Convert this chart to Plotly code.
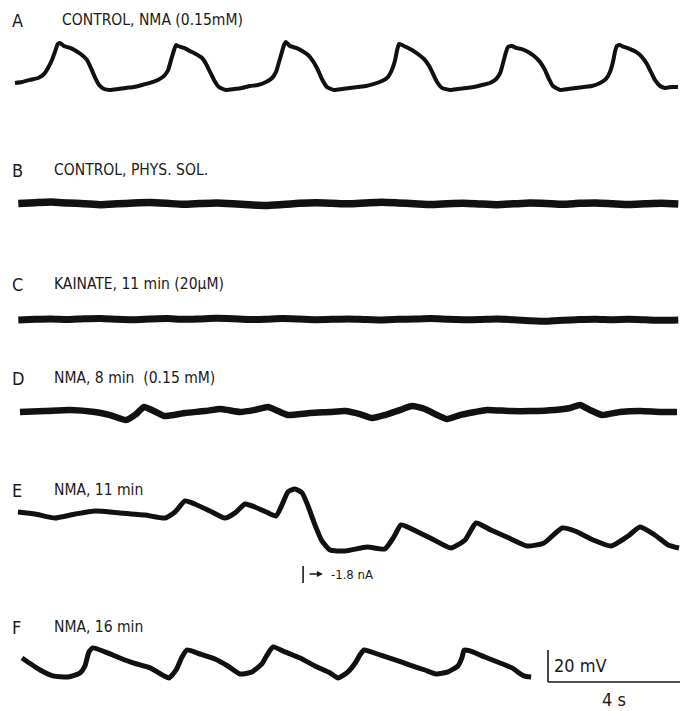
import plotly.graph_objects as go

# Intracellular recordings, time in s, membrane potential deflection in mV
# (each sweep given relative to its own resting/trough level)

a_t = [0.00, 0.21, 0.45, 0.70, 0.88, 1.00, 1.12, 1.21, 1.30, 1.36, 1.48, 1.67, 1.85, 2.03, 2.18, 2.30, 2.42, 2.55, 2.70, 2.88,
       3.12, 3.36, 3.61, 3.85, 4.09, 4.33, 4.52, 4.64, 4.73, 4.82, 4.88, 4.94, 5.12, 5.30, 5.48, 5.67, 5.79, 5.91, 6.03, 6.18,
       6.39, 6.64, 6.88, 7.12, 7.36, 7.61, 7.79, 7.91, 8.00, 8.09, 8.15, 8.21, 8.33, 8.52, 8.70, 8.88, 9.03, 9.18, 9.30, 9.45,
       9.67, 9.91, 10.15, 10.39, 10.64, 10.88, 11.12, 11.30, 11.42, 11.52, 11.58, 11.64, 11.73, 11.85, 12.03, 12.21, 12.39,
       12.55, 12.67, 12.79, 12.94, 13.18, 13.42, 13.67, 13.91, 14.15, 14.39, 14.58, 14.70, 14.79, 14.88, 14.94, 15.06, 15.18,
       15.36, 15.55, 15.73, 15.91, 16.06, 16.18, 16.30, 16.52, 16.76, 17.00, 17.24, 17.48, 17.73, 17.91, 18.03, 18.12, 18.18,
       18.24, 18.33, 18.45, 18.64, 18.82, 19.00, 19.15, 19.27, 19.39, 19.55, 19.70, 19.91, 20.09]
a_mv = [4.4, 5.0, 6.3, 7.5, 10.0, 13.8, 18.8, 23.8, 28.8, 29.4, 27.5, 26.3, 24.4, 21.9, 18.8, 13.8, 8.1, 3.1, 0.6, 0.0,
        0.6, 1.3, 1.9, 3.1, 4.4, 6.3, 8.8, 12.5, 18.8, 25.0, 28.1, 27.5, 26.3, 24.4, 22.5, 20.0, 16.3, 11.3, 6.3, 1.9,
        0.0, 0.6, 1.3, 2.5, 3.1, 5.0, 7.5, 11.3, 17.5, 23.8, 28.1, 30.0, 27.5, 26.3, 24.4, 21.9, 18.1, 12.5, 6.9, 1.9,
        0.0, 0.6, 1.3, 1.9, 2.5, 3.8, 5.6, 8.1, 12.5, 18.8, 25.0, 28.8, 28.1, 26.9, 25.0, 22.5, 19.4,
        15.0, 10.0, 5.0, 1.3, 0.0, 0.6, 1.3, 1.9, 3.1, 4.4, 6.9, 10.6, 16.9, 23.8, 26.9, 27.5, 26.3,
        25.6, 23.8, 21.3, 17.5, 12.5, 6.9, 2.5, 0.0, 0.6, 1.3, 1.9, 2.5, 4.4, 6.9, 11.3, 17.5, 23.8,
        27.5, 28.1, 26.9, 25.6, 23.8, 20.6, 16.3, 11.3, 6.3, 2.5, 1.3, 1.9, 1.9]

flat_t = [0.1 + 0.5 * i for i in range(41)]
b_mv = [0.3, 0.8, 1.2, 0.6, 0.2, -0.4, 0.1, 0.6, 0.9, 0.4, -0.2, 0.3, 0.7, 0.2, -0.5, -0.9, -0.3, 0.4, 0.8, 0.5, 0.1,
        0.6, 1.1, 0.7, 0.2, -0.3, 0.2, 0.5, 0.0, -0.4, 0.1, 0.6, 0.3, -0.2, 0.4, 0.7, 0.2, -0.3, 0.1, 0.4, 0.0]
c_mv = [0.0, 0.4, 0.6, 0.3, 0.8, 1.0, 0.5, 0.2, 0.6, 0.9, 0.4, 0.7, 1.1, 0.8, 0.3, 0.5, 0.9, 0.6, 0.2, 0.4, 0.7,
        0.3, 0.0, 0.4, 0.6, 0.9, 0.5, 0.2, 0.3, 0.6, 0.2, -0.4, -0.8, -0.2, 0.3, 0.5, 0.2, 0.4, 0.1, -0.2, 0.0]

d_t = [0.15, 0.91, 1.67, 2.42, 2.88, 3.36, 3.67, 3.91, 4.21, 4.52, 5.15, 5.76, 6.24, 6.82, 7.27, 7.67, 7.97, 8.27, 8.94,
       9.55, 10.00, 10.45, 10.82, 11.21, 11.67, 12.03, 12.42, 12.79, 13.09, 13.48, 13.94, 14.30, 15.00, 15.64, 16.36,
       16.82, 17.12, 17.42, 17.79, 18.33, 18.94, 19.55, 20.06]
d_mv = [0.0, 0.6, 1.3, 0.0, -1.9, -5.0, -1.3, 3.1, 0.6, -2.5, -0.6, 0.6, 1.9, 0.0, 1.3, 3.1, 0.6, -1.9, -0.6,
        0.0, 0.6, -1.3, -3.8, -1.9, 1.3, 3.8, 1.9, -1.9, -4.4, -1.9, 0.0, 1.3, 0.6, 0.6, 1.3,
        2.5, 4.4, 1.3, -1.9, 0.0, 0.6, 0.0, 0.0]

e_t = [0.09, 0.61, 1.21, 1.82, 2.42, 3.18, 3.94, 4.55, 4.85, 5.15, 5.45, 5.91, 6.36, 6.67, 6.97, 7.27, 7.67, 7.91, 8.09,
       8.27, 8.48, 8.70, 8.88, 9.09, 9.30, 9.55, 10.00, 10.67, 11.21, 11.48, 11.70, 12.15, 12.70, 13.21, 13.64, 13.97,
       14.42, 14.97, 15.52, 16.03, 16.58, 16.97, 17.52, 18.06, 18.58, 18.94, 19.39, 19.79, 20.12]
e_mv = [24.4, 23.1, 20.6, 23.1, 25.0, 23.8, 22.5, 20.6, 24.4, 31.3, 29.4, 25.0, 20.6, 23.8, 29.4, 27.5, 23.8, 21.9, 28.8,
        36.9, 38.8, 36.3, 28.1, 16.3, 6.3, 0.6, 0.0, 2.5, 1.3, 8.8, 16.3, 12.5, 6.9, 1.9, 6.9, 17.5,
        13.1, 8.1, 3.1, 5.0, 14.4, 12.5, 6.9, 3.1, 9.4, 15.0, 10.0, 3.8, 1.9]

f_t = [0.21, 0.76, 1.15, 1.61, 1.97, 2.12, 2.24, 2.36, 2.73, 3.18, 3.58, 4.09, 4.52, 4.67, 4.88, 5.06, 5.21, 5.61, 6.06,
       6.45, 6.82, 7.18, 7.48, 7.64, 7.82, 8.18, 8.64, 9.09, 9.55, 9.79, 10.09, 10.33, 10.45, 10.58, 11.06, 11.52, 11.97,
       12.42, 12.76, 13.12, 13.42, 13.55, 13.61, 13.79, 14.24, 14.70, 15.06, 15.42, 15.64]
f_mv = [12.5, 5.0, 1.3, 0.6, 3.1, 7.5, 16.3, 18.8, 16.3, 12.5, 9.4, 6.3, 1.3, 0.0, 5.0, 13.1, 17.5, 15.0, 11.9,
        7.5, 2.5, 3.8, 8.8, 14.4, 19.4, 16.3, 12.5, 7.5, 3.1, 0.0, 3.8, 10.0, 14.4, 17.5, 14.4, 11.3, 8.1,
        5.0, 2.5, 3.8, 7.5, 13.1, 17.5, 16.9, 13.1, 9.4, 6.3, 1.3, 0.6]

panel_letters = ["A", "B", "C", "D", "E", "F"]
panel_titles = ["CONTROL, NMA (0.15mM)", "CONTROL, PHYS. SOL.", "KAINATE, 11 min (20μM)",
                "NMA, 8 min  (0.15 mM)", "NMA, 11 min", "NMA, 16 min"]

stim_t = 8.73          # onset of current injection in sweep E
stim_label = "-1.8 nA"
bar_mv = 20
bar_s = 4

# ---- layout geometry ----
W, H = 690, 711
PX_PER_S = 33.0
PX_PER_MV = 1.6
X0_PX = 15            # pixel column of t = 0

def px_to_t(px):
    return (px - X0_PX) / PX_PER_S

def row(px):
    # vertical pixel position expressed in mV units (axis runs downward to -H)
    return -px / PX_PER_MV

sweep_base_px = [90, 204, 320, 412, 551, 678]
title_px = [20, 170, 284, 378, 490, 627]
widths = [4.0, 7.5, 7.0, 6.5, 5.0, 5.0]

sweeps = [(a_t, a_mv), (flat_t, b_mv), (flat_t, c_mv), (d_t, d_mv), (e_t, e_mv), (f_t, f_mv)]

fig = go.Figure()
for (t, mv), base, w in zip(sweeps, sweep_base_px, widths):
    fig.add_trace(go.Scatter(
        x=t, y=[row(base) + v for v in mv], mode="lines",
        line=dict(color="#111111", width=w, shape="spline", smoothing=0.5),
        hoverinfo="skip", showlegend=False))

font_family = "Liberation Sans Narrow, DejaVu Sans Condensed, Liberation Sans, Arial, sans-serif"
ink = "#1a1a1a"
annotations = []
for letter, title, ypx in zip(panel_letters, panel_titles, title_px):
    annotations.append(dict(x=px_to_t(10), y=row(ypx), text=letter, showarrow=False,
                            xanchor="left", yanchor="middle",
                            font=dict(family=font_family, size=18, color=ink)))
    annotations.append(dict(x=px_to_t(52 if letter != "A" else 60), y=row(ypx), text=title, showarrow=False,
                            xanchor="left", yanchor="middle",
                            font=dict(family=font_family, size=15.5, color=ink)))

# current-step marker under sweep E
fig.add_shape(type="line", x0=stim_t, x1=stim_t, y0=row(566), y1=row(583),
              line=dict(color=ink, width=1.6))
annotations.append(dict(x=stim_t + 0.6, y=row(574), ax=stim_t + 0.15, ay=row(574),
                        xref="x", yref="y", axref="x", ayref="y", text="", showarrow=True,
                        arrowhead=2, arrowsize=0.8, arrowwidth=1.5, arrowcolor=ink))
annotations.append(dict(x=stim_t + 0.8, y=row(574), text=stim_label, showarrow=False,
                        xanchor="left", yanchor="middle",
                        font=dict(family=font_family, size=13, color=ink)))

# calibration bars beside sweep F
bar_x = px_to_t(548)
bar_y = row(682)
fig.add_shape(type="line", x0=bar_x, x1=bar_x, y0=bar_y, y1=bar_y + bar_mv,
              line=dict(color=ink, width=1.6))
fig.add_shape(type="line", x0=bar_x, x1=bar_x + bar_s, y0=bar_y, y1=bar_y,
              line=dict(color=ink, width=1.6))
annotations.append(dict(x=bar_x + 0.12, y=row(665), text=f"{bar_mv} mV", showarrow=False,
                        xanchor="left", yanchor="middle",
                        font=dict(family=font_family, size=18, color=ink)))
annotations.append(dict(x=bar_x + bar_s / 2, y=row(699), text=f"{bar_s} s", showarrow=False,
                        xanchor="center", yanchor="middle",
                        font=dict(family=font_family, size=18, color=ink)))

fig.update_layout(
    width=W, height=H, margin=dict(l=0, r=0, t=0, b=0),
    paper_bgcolor="white", plot_bgcolor="white",
    xaxis=dict(range=[px_to_t(0), px_to_t(W)], visible=False, fixedrange=True),
    yaxis=dict(range=[row(H), row(0)], visible=False, fixedrange=True),
    annotations=annotations,
)

fig.write_html("out.html")
